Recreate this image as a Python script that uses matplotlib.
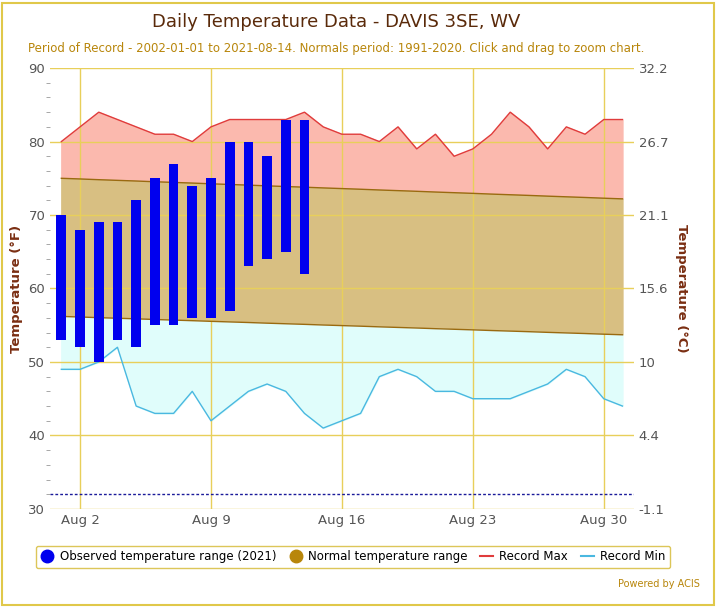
import matplotlib
matplotlib.use("Agg")
import matplotlib.pyplot as plt
import numpy as np

days = list(range(1, 32))
obs_days = list(range(1, 15))
obs_min = [53, 52, 50, 53, 52, 55, 55, 56, 56, 57, 63, 64, 65, 62]
obs_max = [70, 68, 69, 69, 72, 75, 77, 74, 75, 80, 80, 78, 83, 83]
rec_max = [80, 82, 84, 83, 82, 81, 81, 80, 82, 83, 83, 83, 83, 84, 82, 81, 81, 80, 82, 79, 81, 78, 79, 81, 84, 82, 79, 82, 81, 83, 83]
rec_min = [49, 49, 50, 52, 44, 43, 43, 46, 42, 44, 46, 47, 46, 43, 41, 42, 43, 48, 49, 48, 46, 46, 45, 45, 45, 46, 47, 49, 48, 45, 44]
norm_max = list(np.round(np.linspace(75.0, 72.2, 31), 2))
norm_min = list(np.round(np.linspace(56.2, 53.7, 31), 2))
xticks = [2, 9, 16, 23, 30]
xlabels = ["Aug 2", "Aug 9", "Aug 16", "Aug 23", "Aug 30"]
yticks = [30, 40, 50, 60, 70, 80, 90]
clabels = ["-1.1", "4.4", "10", "15.6", "21.1", "26.7", "32.2"]

fig = plt.figure(figsize=(7.16, 6.08), dpi=100)
ax = fig.add_axes([0.07, 0.163, 0.815, 0.725])
ax.fill_between(days, norm_max, rec_max, color="#fbb9ae")
ax.fill_between(days, norm_min, norm_max, color="#d8bf82")
ax.fill_between(days, rec_min, norm_min, color="#e0fdfb")
ax.plot(days, rec_max, color="#e03c3c", lw=1)
ax.plot(days, rec_min, color="#4ab8e0", lw=1)
ax.plot(days, norm_max, color="#9a6a10", lw=1)
ax.plot(days, norm_min, color="#9a6a10", lw=1)
ax.bar(obs_days, np.array(obs_max) - np.array(obs_min), bottom=obs_min, width=0.52, color="#0000ee", zorder=3)
ax.axhline(32, color="#1a1a9a", ls="--", lw=1, dashes=(2, 1.5))
ax.set_xlim(0.4, 31.6)
ax.set_ylim(30, 90)
ax.set_xticks(xticks)
ax.set_xticklabels(xlabels, color="#555555", fontsize=9.5)
ax.set_yticks(yticks)
ax.set_yticklabels(yticks, color="#555555", fontsize=9.5)
ax.set_yticks(np.arange(30, 91, 2), minor=True)
ax.tick_params(axis="y", which="minor", length=3, color="#999999")
ax.grid(True, color="#e8cf5a", lw=1)
ax.tick_params(length=0)
for s in ax.spines.values():
    s.set_visible(False)
ax.set_ylabel("Temperature (°F)", color="#7a2e12", fontweight="bold", fontsize=9.5)
ax2 = ax.twinx()
ax2.set_ylim(30, 90)
ax2.set_yticks(yticks)
ax2.set_yticklabels(clabels, color="#555555", fontsize=9.5)
ax2.tick_params(length=0)
for s in ax2.spines.values():
    s.set_visible(False)
ax2.set_ylabel("Temperature (°C)", color="#7a2e12", fontweight="bold", fontsize=9.5, rotation=270, labelpad=14)

fig.text(0.47, 0.955, "Daily Temperature Data - DAVIS 3SE, WV", ha="center", fontsize=13, color="#5a2a0a")
fig.text(0.47, 0.914, "Period of Record - 2002-01-01 to 2021-08-14. Normals period: 1991-2020. Click and drag to zoom chart.",
         ha="center", fontsize=8.5, color="#b8860b")
from matplotlib.lines import Line2D
handles = [Line2D([], [], marker="o", ls="", color="#0000ee", markersize=9),
           Line2D([], [], marker="o", ls="", color="#b8860b", markersize=9),
           Line2D([], [], color="#e03c3c"), Line2D([], [], color="#4ab8e0")]
labels = ["Observed temperature range (2021)", "Normal temperature range", "Record Max", "Record Min"]
fig.legend(handles, labels, loc="center", bbox_to_anchor=(0.493, 0.084), ncol=4, fontsize=8.5,
           frameon=True, edgecolor="#d4b830", handlelength=1.1, handletextpad=0.5, columnspacing=1.1, fancybox=True)
fig.text(0.978, 0.035, "Powered by ACIS", ha="right", fontsize=7, color="#b8860b")
fig.patches.append(plt.Rectangle((0.003, 0.005), 0.994, 0.99, transform=fig.transFigure, fill=False, edgecolor="#e0c84a", lw=1.5))
fig.savefig("out.png", dpi=100)
